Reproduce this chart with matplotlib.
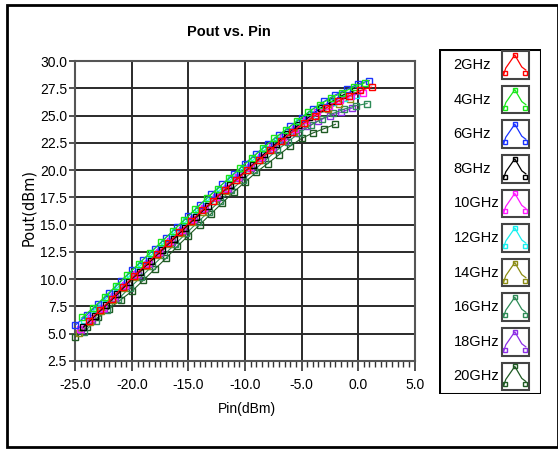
import numpy as np
import matplotlib.pyplot as plt
from matplotlib.patches import Rectangle

# series labels, colours and data
labels = ["2GHz", "4GHz", "6GHz", "8GHz", "10GHz", "12GHz", "14GHz", "16GHz", "18GHz", "20GHz"]
colors = ["#ff0000", "#19e619", "#1a33ff", "#000000", "#ff19ff",
          "#19f0f0", "#8c8c14", "#2e8b57", "#8c2ee6", "#1f5a23"]

# first Pin point of each sweep (1 dB steps)
pin_start = [-23.8, -24.4, -25.0, -24.3, -24.6, -24.2, -24.7, -24.2, -24.5, -25.0]

pout_2 = [6.2, 7.2, 8.2, 9.3, 10.3, 11.3, 12.3, 13.3, 14.3, 15.3, 16.3, 17.2, 18.2,
          19.1, 20.0, 20.9, 21.8, 22.7, 23.5, 24.3, 25.0, 25.7, 26.3, 26.8, 27.3, 27.6]
pout_4 = [6.5, 7.4, 8.4, 9.4, 10.4, 11.4, 12.4, 13.4, 14.4, 15.4, 16.4, 17.4, 18.3,
          19.3, 20.2, 21.1, 22.0, 22.9, 23.7, 24.5, 25.3, 26.0, 26.6, 27.1, 27.6, 28.0]
pout_6 = [5.8, 6.7, 7.7, 8.7, 9.8, 10.8, 11.8, 12.8, 13.8, 14.8, 15.8, 16.8, 17.8, 18.7,
          19.6, 20.6, 21.5, 22.4, 23.2, 24.0, 24.8, 25.6, 26.3, 26.9, 27.4, 27.9, 28.2]
pout_8 = [5.6, 6.6, 7.6, 8.6, 9.7, 10.7, 11.7, 12.7, 13.7, 14.7, 15.7, 16.7, 17.7,
          18.6, 19.6, 20.5, 21.5, 22.4, 23.3, 24.1, 24.9, 25.7, 26.3, 26.9, 27.3]
pout_10 = [5.4, 6.4, 7.4, 8.5, 9.5, 10.5, 11.5, 12.5, 13.5, 14.5, 15.5, 16.5, 17.5,
           18.4, 19.4, 20.3, 21.2, 22.1, 23.0, 23.8, 24.6, 25.3, 25.9, 26.4, 26.8, 27.1]
pout_12 = [6.3, 7.3, 8.3, 9.3, 10.3, 11.3, 12.3, 13.3, 14.3, 15.3, 16.3, 17.3, 18.2,
           19.2, 20.1, 21.0, 21.9, 22.8, 23.6, 24.4, 25.1, 25.7, 26.2, 26.6, 26.9]
pout_14 = [5.1, 6.1, 7.1, 8.1, 9.2, 10.2, 11.2, 12.2, 13.2, 14.2, 15.2, 16.2, 17.2,
           18.1, 19.1, 20.0, 20.9, 21.8, 22.7, 23.5, 24.3, 25.0, 25.6, 26.1, 26.5]
pout_16 = [5.2, 6.2, 7.2, 8.2, 9.2, 10.2, 11.2, 12.2, 13.2, 14.2, 15.2, 16.2, 17.2,
           18.2, 19.1, 20.0, 20.9, 21.8, 22.6, 23.4, 24.1, 24.7, 25.2, 25.6, 25.9, 26.1]
pout_18 = [5.3, 6.3, 7.3, 8.3, 9.4, 10.4, 11.4, 12.4, 13.4, 14.4, 15.4, 16.4, 17.4,
           18.3, 19.3, 20.2, 21.1, 21.9, 22.7, 23.4, 24.0, 24.5, 25.0, 25.3, 25.7]
pout_20 = [4.7, 5.6, 6.5, 7.3, 8.1, 8.9, 9.9, 10.9, 11.9, 13.0, 14.0, 15.0, 16.0,
           17.0, 18.0, 18.9, 19.8, 20.6, 21.4, 22.2, 22.9, 23.4, 23.8, 24.2]

pouts = [pout_2, pout_4, pout_6, pout_8, pout_10, pout_12, pout_14, pout_16, pout_18, pout_20]

W, H = 558, 449
fig = plt.figure(figsize=(W / 100, H / 100), dpi=100)
fnt = ["Liberation Sans", "DejaVu Sans"]

# outer frame
fig.patches.append(Rectangle((7 / W, 1 - 447 / H), 551 / W, 442 / H, transform=fig.transFigure,
                             fill=False, edgecolor="black", linewidth=2))

ax = fig.add_axes([75.4 / W, 1 - 361 / H, 339.2 / W, 300 / H])
# draw the lower-frequency series last so red ends on top like the reference
for i in reversed(range(len(labels))):
    y = pouts[i]
    x = np.arange(len(y)) * 1.0 + pin_start[i]
    ax.plot(x, y, color=colors[i], linewidth=0.8, marker="s", markersize=4.5,
            markerfacecolor="none", markeredgewidth=1.0, clip_on=False, zorder=3)

ax.set_xlim(-25, 5)
ax.set_ylim(2.5, 30)
ax.set_xticks(np.arange(-25, 5.1, 5))
ax.set_xticks(np.arange(-25, 5.1, 0.5), minor=True)
ax.set_yticks(np.arange(2.5, 30.1, 2.5))
ax.set_xticklabels(["%.1f" % v for v in np.arange(-25, 5.1, 5)], family=fnt, fontsize=10)
ax.set_yticklabels(["%.1f" % v for v in np.arange(2.5, 30.1, 2.5)], family=fnt, fontsize=10)
ax.tick_params(axis="x", which="major", length=7, width=1.2, pad=5, color="#333333")
ax.tick_params(axis="x", which="minor", length=4, width=1, color="#333333")
ax.tick_params(axis="y", which="major", length=4, width=1.2, pad=2, color="#333333")
ax.grid(True, which="major", color="#2a2a2a", linewidth=1.4)
for s in ax.spines.values():
    s.set_color("#555555")
    s.set_linewidth(1.5)
ax.set_axisbelow(True)

fig.text(229 / W, 1 - 32 / H, "Pout vs. Pin", ha="center", va="center",
         family=fnt, fontsize=10.5, fontweight="bold")
fig.text(246.6 / W, 1 - 409 / H, "Pin(dBm)", ha="center", va="center", family=fnt, fontsize=10)
fig.text(29 / W, 1 - 208 / H, "Pout(dBm)", ha="center", va="center", rotation=90,
         fontsize=10.5, family="DejaVu Sans")

# legend drawn as in the LabVIEW plot legend
lg = fig.add_axes([439 / W, 1 - 394 / H, 102 / W, 345 / H])
lg.set_xlim(0, 102)
lg.set_ylim(345, 0)
lg.axis("off")
lg.add_patch(Rectangle((0, 0), 102, 345, fill=False, edgecolor="black", linewidth=2.2))
icon_x = [2, 4, 13, 20, 24]
icon_y = [9, 3, -10, 2, 5]
for i, lab in enumerate(labels):
    yc = 16 + 34.6 * i
    lg.text(14.5, yc, lab, ha="left", va="center", family=fnt, fontsize=10.5)
    lg.add_patch(Rectangle((62.8, yc - 13.8), 26.7, 27.6, fill=False,
                           edgecolor="#444444", linewidth=1.5))
    lg.plot([62.8 + v for v in icon_x], [yc + v for v in icon_y], color=colors[i], linewidth=0.9)
    lg.plot([62.8 + v for v in [3, 13, 23]], [yc + v for v in [8, -10, 8]], linestyle="none",
            marker="s", markersize=3, markerfacecolor="none", markeredgecolor=colors[i])

fig.savefig("out.png", dpi=100)
